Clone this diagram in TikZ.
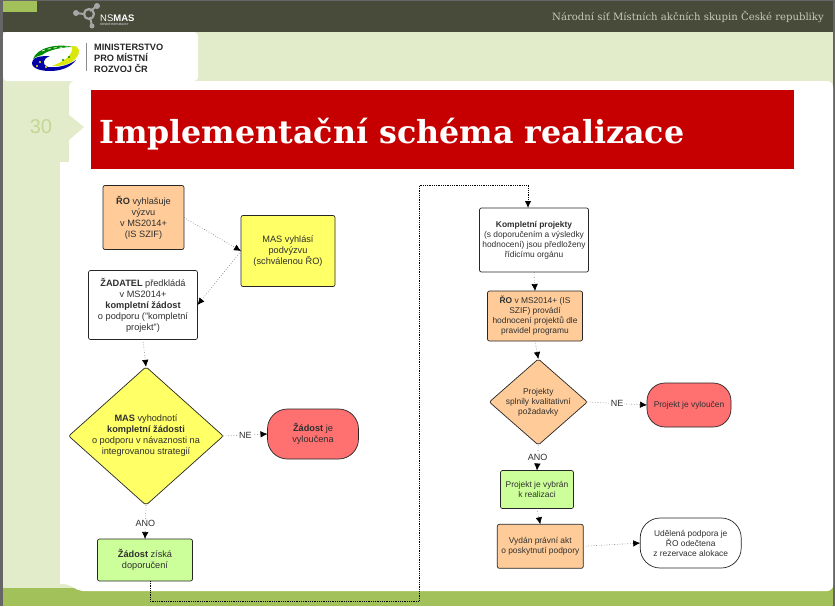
\documentclass[tikz,border=0pt]{standalone}
\usepackage{fontspec}
\setmainfont{Liberation Sans}
\newfontfamily\slabfont{DejaVu Serif}
\usetikzlibrary{arrows.meta,calc,shapes.geometric}

\definecolor{bardark}{HTML}{484A3A}
\definecolor{paleleaf}{HTML}{E2ECCA}
\definecolor{leaf}{HTML}{A3C15A}
\definecolor{titlered}{HTML}{C60000}
\definecolor{peach}{HTML}{FFCC99}
\definecolor{lemon}{HTML}{FFFF66}
\definecolor{lime}{HTML}{CCFF99}
\definecolor{salmon}{HTML}{FF7070}
\definecolor{inktext}{HTML}{2F2F2F}
\definecolor{headtext}{HTML}{C9CBB9}

\tikzset{
  flowbox/.style={draw=black!85, line width=0.7pt, rounded corners=2pt, inner sep=0pt, outer sep=0pt,
    align=center, text=inktext, font=\fontsize{9.2}{11}\selectfont},
  smallbox/.style={flowbox, font=\fontsize{8.4}{10}\selectfont},
  decision/.style={diamond, aspect=1.13},
  flowline/.style={draw=black!55, line width=0.6pt, dotted, -{Latex[length=7pt,width=6.5pt,black]}},
  flowlabel/.style={fill=white, inner sep=1pt, text=inktext, font=\fontsize{9}{10}\selectfont},
  logotext/.style={anchor=base west, inner sep=0pt, text=black!85, font=\bfseries\fontsize{9.2}{10}\selectfont},
}

\begin{document}
\begin{tikzpicture}[x=1pt, y=-1pt]
  \useasboundingbox (0,0) rectangle (835,606);

  % podklad
  \fill[black!60] (0,0) rectangle (835,606);
  \fill[bardark] (3,1) rectangle (833,32);
  \fill[leaf] (3,1) rectangle (37,12);
  \fill[paleleaf] (3,32) rectangle (833,590);
  \fill[white, rounded corners=4pt] (3,32) rectangle (198,81);
  \fill[leaf] (3,588) rectangle (833,606);
  \fill[white] (60,162) -- (69,162) [rounded corners=6pt] -- (69,81) -- (833,81) -- (833,591) -- (78,591) -- (69,584) [sharp corners] -- (60,584) -- cycle;
  \fill[paleleaf] (69,115) -- (84,127) -- (69,140) -- cycle;
  \fill[titlered] (91,90) rectangle (794,169);

  % hlavicka
  \node[anchor=base east, inner sep=0pt, text=headtext, font=\slabfont\fontsize{10.1}{12}\selectfont] (headline) at (824,20) {Národní síť Místních akčních skupin České republiky};
  \node[anchor=base west, inner sep=0pt, text=white, font=\slabfont\bfseries\fontsize{31.7}{36}\selectfont] (maintitle) at (99,143) {Implementační schéma realizace};
  \node[text=leaf!50!paleleaf, font=\fontsize{20}{22}\selectfont] (slidenum) at (41,127) {30};

  % logo NS MAS
  \draw[black!35, line width=2.2pt] (89,14) circle (5);
  \draw[black!35, line width=2pt] (76,13) -- (84,14) (90,11) -- (97,6) (90,17) -- (92,26);
  \fill[black!35] (76,13) circle (3) (97,6) circle (3) (92,26) circle (2.5);
  \node[anchor=base west, inner sep=0pt, text=white, font=\fontsize{9.5}{10}\selectfont] (nsmas) at (100,21) {NS\textbf{MAS}};
  \node[anchor=base west, inner sep=0pt, text=black!25, font=\bfseries\fontsize{3}{3}\selectfont] (nsmassub) at (100,25) {ČESKÉ REPUBLIKY};

  % logo ministerstva
  \fill[green!55!black] (33,59) .. controls (37,48) and (56,43) .. (73,47) .. controls (62,47) and (48,50) .. (42,55) .. controls (38,56) and (35,57) .. (33,59) -- cycle;
  \draw[white, line width=0.7pt, dashed] (42,51) .. controls (50,48) and (58,47) .. (68,47);
  \fill[yellow!85!green] (72,46) .. controls (80,45) and (81,53) .. (76,58) .. controls (70,65) and (62,66) .. (52,66) .. controls (62,62) and (74,56) .. (72,46) -- cycle;
  \fill[blue!65!black] (33,60) .. controls (29,67) and (38,71) .. (50,71) .. controls (60,71) and (70,68) .. (76,60) .. controls (68,66) and (56,68) .. (48,67) .. controls (42,65) and (42,59) .. (50,56) .. controls (40,56) and (35,57) .. (33,60) -- cycle;
  \fill[yellow] (40,62) circle (1.2) (37,66) circle (1.2) (46,67) circle (1.2);
  \fill[green!55!black] (63,60) circle (1.2) (69,57) circle (1.2);
  \fill[black!45] (85.5,43) rectangle (86.5,71);
  \begin{scope}
    \clip (88,40) rectangle (190,71);
    \node[logotext] (minline1) at (94,50.5) {MINISTERSTVO};
    \node[logotext] (minline2) at (94,61) {PRO MÍSTNÍ};
    \node[logotext] (minline3) at (94,72.5) {ROZVOJ ČR};
  \end{scope}

  % levy sloupec
  \node[flowbox, fill=peach, minimum width=81pt, minimum height=64pt] (ro) at (143.5,217.5) {\textbf{ŘO} vyhlašuje\\výzvu\\v MS2014+\\(IS SZIF)};
  \node[flowbox, fill=lemon, minimum width=94pt, minimum height=71pt] (mas) at (288,251) {MAS vyhlásí\\podvýzvu\\(schválenou ŘO)};
  \node[flowbox, fill=white, minimum width=109pt, minimum height=69pt] (zadatel) at (143,305) {\textbf{ŽADATEL} předkládá\\v MS2014+\\\textbf{kompletní žádost}\\o podporu ("kompletní\\projekt")};
  \node[flowbox, decision, fill=lemon, aspect=1.117, minimum width=153pt, minimum height=137pt] (vyhodnoceni) at (146,436) {\textbf{MAS} vyhodnotí\\\textbf{kompletní žádosti}\\o podporu v návaznosti na\\integrovanou strategií};
  \node[flowbox, fill=salmon, rounded corners=20pt, minimum width=91pt, minimum height=50pt] (vyloucena) at (313,434) {\textbf{Žádost} je\\vyloučena};
  \node[flowbox, fill=lime, minimum width=95pt, minimum height=42pt] (doporuceni) at (145,560) {\textbf{Žádost} získá\\doporučení};

  % pravy sloupec
  \node[smallbox, fill=white, minimum width=109pt, minimum height=64pt] (komplet) at (534,240) {\textbf{Kompletní projekty}\\(s doporučením a výsledky\\hodnocení) jsou předloženy\\řídicímu orgánu};
  \node[smallbox, fill=peach, minimum width=95pt, minimum height=50pt] (hodnoceni) at (535,316) {\textbf{ŘO} v MS2014+ (IS\\SZIF) provádí\\hodnocení projektů dle\\pravidel programu};
  \node[smallbox, decision, fill=peach, aspect=1.14, minimum width=98pt, minimum height=86pt] (pozadavky) at (538.3,402) {Projekty\\splnily kvalitativní\\požadavky};
  \node[smallbox, fill=salmon, rounded corners=18pt, minimum width=84pt, minimum height=44pt] (vyloucen) at (689,405) {Projekt je vyloučen};
  \node[smallbox, fill=lime, minimum width=73pt, minimum height=38pt] (vybran) at (537,489.5) {Projekt je vybrán\\k realizaci};
  \node[smallbox, fill=peach, minimum width=86pt, minimum height=44pt] (akt) at (540.3,546.3) {Vydán právní akt\\o poskytnutí podpory};
  \node[smallbox, fill=white, rounded corners=20pt, minimum width=101pt, minimum height=50pt] (udelena) at (690.7,543) {Udělená podpora je\\ŘO odečtena\\z rezervace alokace};

  % spojnice
  \draw[flowline] (ro.east) -- (mas.west);
  \draw[flowline] (mas.west) -- (zadatel.east);
  \draw[flowline] (zadatel.south) -- (vyhodnoceni.north);
  \draw[flowline] (vyhodnoceni.east) -- node[flowlabel, pos=0.5] (ne1) {NE} (vyloucena.west);
  \draw[flowline] (vyhodnoceni.south) -- node[flowlabel, pos=0.53] (ano1) {ANO} (doporuceni.north);
  \draw[flowline] (komplet.south) -- (hodnoceni.north);
  \draw[flowline] (hodnoceni.south) -- (pozadavky.north);
  \draw[flowline] (pozadavky.east) -- node[flowlabel, pos=0.5] (ne2) {NE} (vyloucen.west);
  \draw[flowline] (pozadavky.south) -- node[flowlabel, pos=0.5] (ano2) {ANO} (vybran.north);
  \draw[flowline] (vybran.south) -- (akt.north);
  \draw[flowline] (akt.east) -- (udelena.west);

  % prechod mezi sloupci
  \coordinate (linkout) at ($(doporuceni.south)+(5,0)$);
  \coordinate (linkbottom) at (419.5,601);
  \coordinate (linktop) at (419.5,185);
  \coordinate (linkin) at ($(komplet.north)+(-6,0)$);
  \draw[black, line width=0.8pt, densely dotted, -{Latex[length=7pt,width=6.5pt,black]}] (linkout) |- (linkbottom) -- (linktop) -| (linkin);
\end{tikzpicture}
\end{document}
